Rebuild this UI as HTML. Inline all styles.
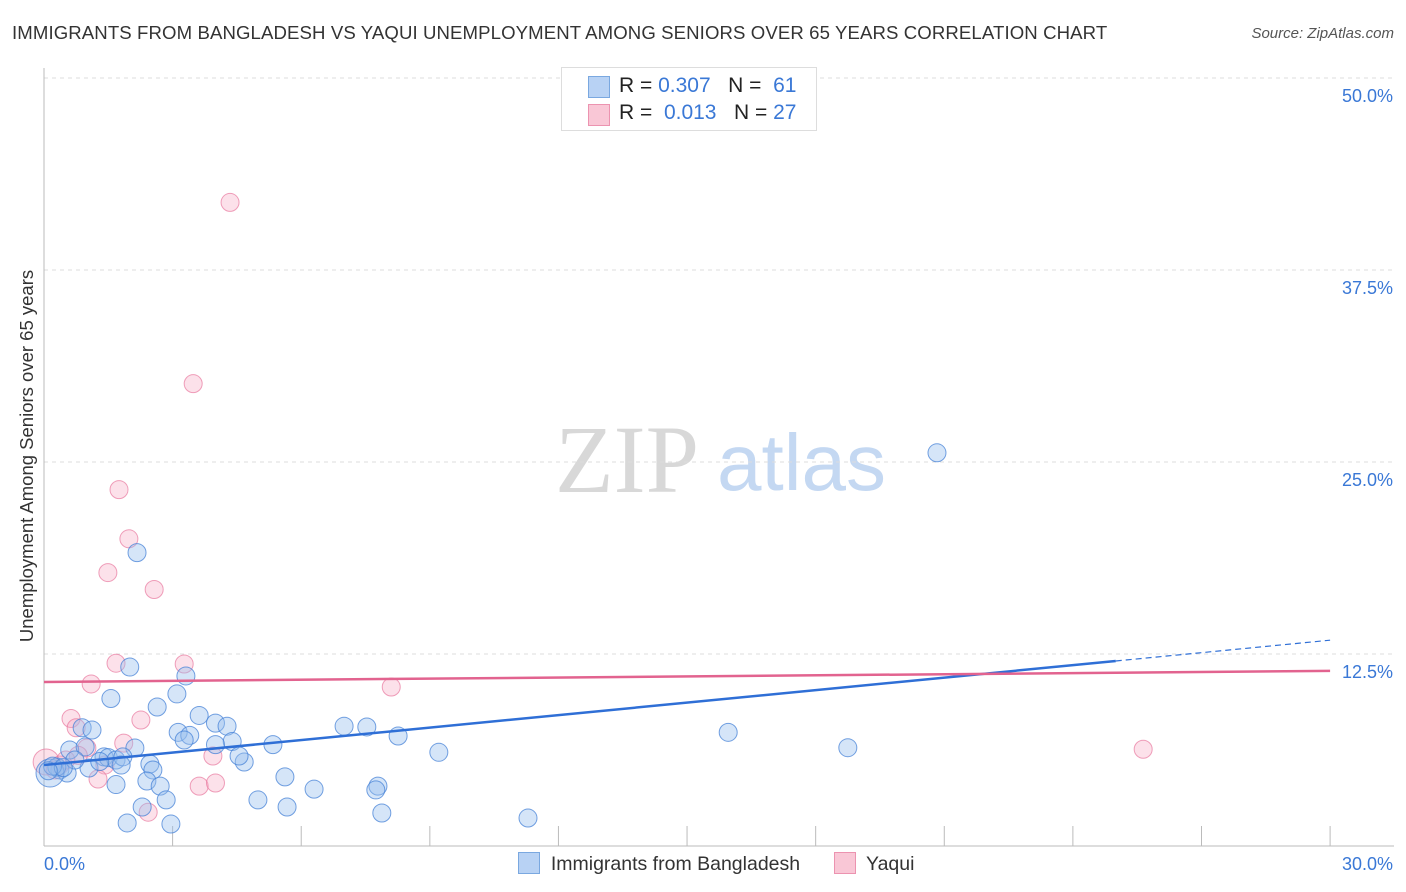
<!DOCTYPE html>
<html><head><meta charset="utf-8"><style>
body{margin:0;background:#fff;font-family:"Liberation Sans",sans-serif;}
#wrap{position:relative;width:1406px;height:892px;overflow:hidden;}
.t{position:absolute;white-space:nowrap;}
</style></head><body>
<div id="wrap">
<div class="t" style="left:12px;top:22px;font-size:18.6px;color:#333;letter-spacing:0.1px;">IMMIGRANTS FROM BANGLADESH VS YAQUI UNEMPLOYMENT AMONG SENIORS OVER 65 YEARS CORRELATION CHART</div>
<div class="t" style="right:12px;top:25px;font-size:15px;color:#555;font-style:italic;">Source: ZipAtlas.com</div>
<svg id="chart" width="1406" height="892" style="position:absolute;left:0;top:0"></svg>
<div class="t" style="left:561px;top:67px;width:254px;height:62px;border:1px solid #ddd;background:#fff;font-size:21px;color:#222;">
 <div style="position:absolute;left:26px;top:8px;width:20px;height:20px;background:#b8d2f4;border:1px solid #7aa8e0;"></div>
 <div style="position:absolute;left:57px;top:6px;">R = <span style="color:#3a78d6">0.307</span>&nbsp;&nbsp;&nbsp;N = &nbsp;<span style="color:#3a78d6">61</span></div>
 <div style="position:absolute;left:26px;top:36px;width:20px;height:20px;background:#f9c7d6;border:1px solid #ec93b0;"></div>
 <div style="position:absolute;left:57px;top:33px;">R = &nbsp;<span style="color:#3a78d6">0.013</span>&nbsp;&nbsp;&nbsp;N = <span style="color:#3a78d6">27</span></div>
</div>
<div class="t" style="left:518px;top:852px;font-size:19.5px;color:#333;">
 <span style="display:inline-block;width:20px;height:20px;background:#b8d2f4;border:1px solid #7aa8e0;vertical-align:-4px;"></span>&nbsp; Immigrants from Bangladesh
 <span style="display:inline-block;width:20px;height:20px;background:#f9c7d6;border:1px solid #ec93b0;vertical-align:-4px;margin-left:28px;"></span>&nbsp; Yaqui
</div>
<div class="t" style="left:27px;top:456px;font-size:18.5px;color:#333;transform:translate(-50%,-50%) rotate(-90deg);">Unemployment Among Seniors over 65 years</div>
</div>
<script>
const blueX=[20.83,2.17,2.0,3.31,1.56,3.1,2.64,3.62,4.0,4.27,3.13,3.4,3.27,4.39,4.0,5.34,7.0,7.53,8.26,9.21,15.96,18.75,0.89,1.12,0.6,0.96,1.4,1.5,1.68,2.12,1.84,1.8,1.05,0.37,0.54,0.14,0.3,0.72,2.47,2.54,4.67,4.55,2.4,2.71,1.68,5.62,6.3,7.79,7.74,4.99,2.85,2.29,5.67,7.88,11.29,1.94,2.96,0.2,0.45,1.3,0.1];
const blueY=[25.6,19.1,11.65,11.07,9.6,9.9,9.05,8.5,8.0,7.8,7.4,7.2,6.9,6.8,6.6,6.6,7.8,7.75,7.16,6.1,7.4,6.4,7.7,7.55,6.25,6.45,5.8,5.75,5.6,6.38,5.8,5.27,5.08,4.95,4.75,4.75,5.14,5.6,5.34,4.95,5.47,5.86,4.23,3.9,4.0,4.5,3.7,3.9,3.65,3.0,3.0,2.54,2.54,2.15,1.82,1.5,1.43,5.2,5.1,5.5,4.9];
const pinkX=[4.34,3.48,1.75,1.98,1.49,2.57,1.68,3.27,1.1,8.1,25.64,0.63,2.26,0.75,1.0,1.86,3.94,1.42,1.26,3.62,4.0,2.43,0.05,0.37,0.8,0.51,0.26];
const pinkY=[41.9,30.1,23.2,20.0,17.8,16.7,11.9,11.85,10.55,10.35,6.3,8.3,8.2,7.7,6.38,6.7,5.86,5.27,4.36,3.9,4.1,2.2,5.47,5.27,5.9,5.6,4.95];
const blueTrend=[5.27,13.4];
const pinkTrend=[10.68,11.4];
const yTicks=[12.5,25.0,37.5,50.0];
const xTickVals=[0,3,6,9,12,15,18,21,24,27,30];
const sx=v=>44+v*42.87, sy=v=>846-v*15.36;
const svg=document.getElementById('chart');const NS='http://www.w3.org/2000/svg';
function mk(t,a){const e=document.createElementNS(NS,t);for(const k in a)e.setAttribute(k,a[k]);svg.appendChild(e);return e;}
let w=mk('text',{x:555,y:492,'font-size':96,'font-family':'Liberation Serif',fill:'#d8d8d8'});w.textContent='ZIP';


w=mk('text',{x:717,y:490,'font-size':80,'font-family':'Liberation Sans',fill:'#c4d8f2'});w.textContent='atlas';


yTicks.forEach(v=>{let l=mk('line',{x1:44,x2:1394,y1:sy(v),y2:sy(v),stroke:'#ddd','stroke-dasharray':'4,4'});


let t=mk('text',{x:1393,y:sy(v)+24,'text-anchor':'end','font-size':18,fill:'#3a78d6'});t.textContent=v.toFixed(1)+'%';

});
let ax=mk('line',{x1:44,x2:44,y1:68,y2:846,stroke:'#bbb'});


ax=mk('line',{x1:44,x2:1394,y1:846,y2:846,stroke:'#bbb'});


xTickVals.forEach(v=>{let l=mk('line',{x1:sx(v),x2:sx(v),y1:826,y2:846,stroke:'#bbb'});

});
let tl=mk('text',{x:44,y:870,'font-size':18,fill:'#3a78d6'});tl.textContent='0.0%';


tl=mk('text',{x:1393,y:870,'text-anchor':'end','font-size':18,fill:'#3a78d6'});tl.textContent='30.0%';


pinkX.forEach((x,i)=>{const r=i==22?13:9;let c=mk('circle',{cx:sx(x),cy:sy(pinkY[i]),r:r,fill:'rgba(246,170,195,0.35)',stroke:'rgba(232,120,158,0.7)','stroke-width':1});

});
blueX.forEach((x,i)=>{const r=i==35?14:9;let c=mk('circle',{cx:sx(x),cy:sy(blueY[i]),r:r,fill:'rgba(150,190,238,0.4)',stroke:'rgba(70,130,215,0.75)','stroke-width':1});

});
const bAt=x=>blueTrend[0]+(blueTrend[1]-blueTrend[0])*x/30;
let tr=mk('line',{x1:sx(0),y1:sy(bAt(0)),x2:sx(25),y2:sy(bAt(25)),stroke:'#2f6fd6','stroke-width':2.5});


tr=mk('line',{x1:sx(25),y1:sy(bAt(25)),x2:sx(30),y2:sy(bAt(30)),stroke:'#2f6fd6','stroke-width':1.2,'stroke-dasharray':'6,4'});


tr=mk('line',{x1:sx(0),y1:sy(pinkTrend[0]),x2:sx(30),y2:sy(pinkTrend[1]),stroke:'#e2638f','stroke-width':2.5});


</script>
</body></html>
